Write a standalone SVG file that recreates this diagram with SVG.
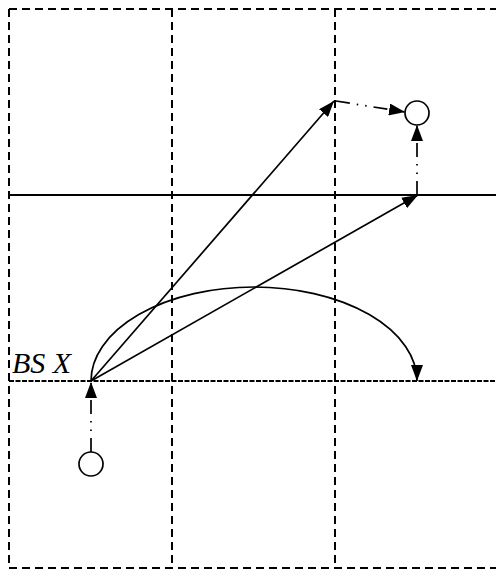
<svg xmlns="http://www.w3.org/2000/svg" width="496" height="570" viewBox="0 0 496 570">
<style>
.grid{stroke:#000;stroke-width:2;stroke-dasharray:8 5;fill:none}
.fine{stroke:#000;stroke-width:2;stroke-dasharray:5 1.5;fill:none}
.hsolid{stroke:#000;stroke-width:2;fill:none}
.solid{stroke:#000;stroke-width:1.7;fill:none}
.dd{stroke:#000;stroke-width:1.7;fill:none;stroke-dasharray:14 7 1.5 7 1.5 7}
.node{fill:#fff;stroke:#000;stroke-width:1.7}
.lbl{font-family:"Liberation Serif",serif;font-style:italic;font-size:30px;fill:#000}
</style>
<defs>
<marker id="ah" viewBox="0 0 16 12" refX="16" refY="6" markerWidth="16" markerHeight="12" markerUnits="userSpaceOnUse" orient="auto">
<path d="M0,0 L16,6 L0,12 Z" fill="#000"/>
</marker>
</defs>
<g id="grid">
<line class="grid" x1="9" y1="9" x2="496" y2="9"/>
<line class="grid" x1="9" y1="568" x2="496" y2="568"/>
<line class="grid" x1="9" y1="9" x2="9" y2="568"/>
<line class="grid" x1="172" y1="9" x2="172" y2="568"/>
<line class="grid" x1="335" y1="9" x2="335" y2="568"/>
<line class="hsolid" x1="9" y1="195" x2="496" y2="195"/>
<line class="fine" x1="9" y1="381" x2="496" y2="381"/>
</g>
<g id="connectors">
<line class="solid" x1="91" y1="381" x2="334" y2="101" marker-end="url(#ah)"/>
<line class="solid" x1="91" y1="381" x2="418" y2="195" marker-end="url(#ah)"/>
<path class="solid" d="M91,381 A163,94 0 0 1 417,381" marker-end="url(#ah)"/>
<line class="dd" x1="336" y1="101" x2="405" y2="112" marker-end="url(#ah)"/>
<line class="dd" x1="417" y1="195" x2="417" y2="125" marker-end="url(#ah)"/>
<line class="dd" x1="91" y1="452" x2="91" y2="382" marker-end="url(#ah)"/>
</g>
<g id="ue-top"><circle class="node" cx="417" cy="113" r="12"/></g>
<g id="ue-bottom"><circle class="node" cx="91" cy="464" r="12"/></g>
<g id="bsx"><text class="lbl" x="12" y="373">BS X</text></g>
</svg>
